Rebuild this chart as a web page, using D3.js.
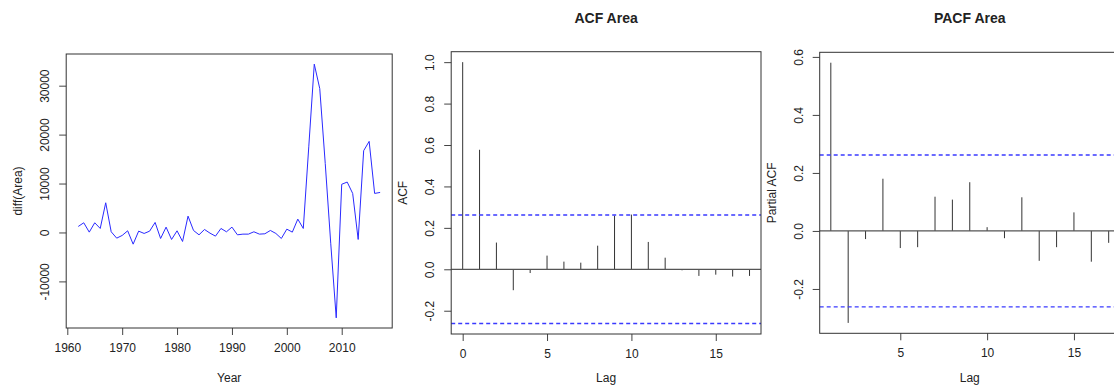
<html>
<head>
<meta charset="utf-8">
<script src="https://d3js.org/d3.v7.min.js"></script>
<style>
body { margin: 0; background: white; }
text { font-family: "Liberation Sans", Arial, sans-serif; fill: #222; }
</style>
</head>
<body>
<div id="chart"></div>
<script>
// diff(Area) series, years 1962-2017
var years = d3.range(1962, 2018);
var diffArea = [1230, 1980, 70, 1980, 820, 6070, 140, -1160, -610, 340,
  -2390, 270, -200, 270, 2050, -1230, 1090, -1430, 340, -1840,
  3340, 410, -480, 610, -140, -750, 820, 140, 1090, -480,
  -340, -340, 140, -340, -270, 410, -200, -1230, 680, 70,
  2730, 820, 17500, 34400, 29400, 14100, -2200, -17450, 9850, 10300,
  7980, -1430, 16710, 18620, 7980, 8180];
var yearTicks = [1960, 1970, 1980, 1990, 2000, 2010];
var areaTicks = [-10000, 0, 10000, 20000, 30000];

var acfLags = d3.range(0, 18);
var acfValues = [1.0, 0.577, 0.129, -0.101, -0.018, 0.066, 0.037, 0.032, 0.114, 0.259,
  0.264, 0.132, 0.056, -0.005, -0.032, -0.026, -0.035, -0.032];
var acfXTicks = [0, 5, 10, 15];
var acfYTicks = [-0.2, 0.0, 0.2, 0.4, 0.6, 0.8, 1.0];

var pacfLags = d3.range(1, 18);
var pacfValues = [0.580, -0.317, -0.028, 0.180, -0.059, -0.056, 0.118, 0.108, 0.168,
  0.013, -0.025, 0.116, -0.103, -0.056, 0.064, -0.106, -0.041];
var pacfXTicks = [5, 10, 15];
var pacfYTicks = [-0.2, 0.0, 0.2, 0.4, 0.6];

var ciLimit = 1.96 / Math.sqrt(diffArea.length);

var svg = d3.select("#chart")
  .append("svg")
    .attr("width", 1114)
    .attr("height", 385);

// R style padded range
function pad(lo, hi) {
  var d = (hi - lo) * 0.04;
  return [lo - d, hi + d];
}

// plain hyphen minus like R
var fmtInt = function(d) { return d3.format("d")(d).replace("\u2212", "-"); };
var fmtDec = function(d) { return d3.format(".1f")(d).replace("\u2212", "-"); };

function drawAxes(g, x, y, xTicks, yTicks, fmtX, fmtY) {
  var xr = x.range(), yr = y.range();
  g.append("g")
    .attr("transform", "translate(0," + yr[0] + ")")
    .call(d3.axisBottom(x).tickValues(xTicks).tickSize(7).tickPadding(8).tickFormat(fmtX))
    .call(function(a) {
      a.select(".domain").remove();
      a.selectAll("line").attr("stroke", "#444");
      a.selectAll("text").style("font-size", "12px").attr("fill", "#222");
    });
  g.append("g")
    .attr("transform", "translate(" + xr[0] + ",0)")
    .call(d3.axisLeft(y).tickValues(yTicks).tickSize(7).tickFormat(fmtY))
    .call(function(a) {
      a.select(".domain").remove();
      a.selectAll("line").attr("stroke", "#444");
      a.selectAll("text")
        .style("font-size", "12px")
        .attr("fill", "#222")
        .attr("text-anchor", "middle")
        .attr("dy", null)
        .attr("transform", "translate(-21,0) rotate(-90)")
        .attr("x", 0)
        .attr("y", 4);
    });
  g.append("rect")
    .attr("x", xr[0])
    .attr("y", yr[1])
    .attr("width", xr[1] - xr[0])
    .attr("height", yr[0] - yr[1])
    .attr("fill", "none")
    .attr("stroke", "#333")
    .attr("stroke-width", 1);
}

function labels(g, x, y, xLab, xLabY, yLab, title) {
  var xr = x.range(), yr = y.range();
  g.append("text")
    .attr("x", (xr[0] + xr[1]) / 2)
    .attr("y", xLabY)
    .attr("text-anchor", "middle")
    .style("font-size", "12px")
    .text(xLab);
  g.append("text")
    .attr("transform", "translate(" + (xr[0] - 44) + "," + ((yr[0] + yr[1]) / 2) + ") rotate(-90)")
    .attr("text-anchor", "middle")
    .style("font-size", "12px")
    .text(yLab);
  if (title) {
    g.append("text")
      .attr("x", (xr[0] + xr[1]) / 2)
      .attr("y", 23)
      .attr("text-anchor", "middle")
      .style("font-size", "14px")
      .style("font-weight", "bold")
      .attr("fill", "#000")
      .text(title);
  }
}

// ---- panel 1: diff(Area) time series
var p1 = svg.append("g");
var x1 = d3.scaleLinear().domain(pad(1962, 2017)).range([66.2, 392.2]);
var y1 = d3.scaleLinear().domain(pad(d3.min(diffArea), d3.max(diffArea))).range([328, 54]);

p1.append("path")
  .datum(diffArea)
  .attr("fill", "none")
  .attr("stroke", "#2a2aff")
  .attr("stroke-width", 1)
  .attr("d", d3.line()
    .x(function(d, i) { return x1(years[i]); })
    .y(function(d) { return y1(d); }));

drawAxes(p1, x1, y1, yearTicks, areaTicks, fmtInt, fmtInt);
labels(p1, x1, y1, "Year", 382, "diff(Area)", null);

// ---- ACF / PACF panels
function corrPanel(lags, vals, domX, xRange, yRange, xTicks, yTicks, yLab, title) {
  var g = svg.append("g");
  var x = d3.scaleLinear().domain(pad(domX[0], domX[1])).range(xRange);
  var lo = Math.min(d3.min(vals), -ciLimit), hi = Math.max(d3.max(vals), ciLimit);
  var y = d3.scaleLinear().domain(pad(lo, hi)).range(yRange);

  g.selectAll(".spike")
    .data(vals)
    .enter()
    .append("line")
      .attr("class", "spike")
      .attr("x1", function(d, i) { return x(lags[i]); })
      .attr("x2", function(d, i) { return x(lags[i]); })
      .attr("y1", y(0))
      .attr("y2", function(d) { return y(d); })
      .attr("stroke", "#333")
      .attr("stroke-width", 1);

  g.append("line")
    .attr("x1", xRange[0]).attr("x2", xRange[1])
    .attr("y1", y(0)).attr("y2", y(0))
    .attr("stroke", "#555")
    .attr("stroke-width", 1.3);

  [ciLimit, -ciLimit].forEach(function(c) {
    g.append("line")
      .attr("x1", xRange[0]).attr("x2", xRange[1])
      .attr("y1", y(c)).attr("y2", y(c))
      .attr("stroke", "#3a3aff")
      .attr("stroke-width", 1.4)
      .attr("stroke-dasharray", "4,3");
  });

  drawAxes(g, x, y, xTicks, yTicks, fmtInt, fmtDec);
  labels(g, x, y, "Lag", 382, yLab, title);
}

corrPanel(acfLags, acfValues, [0, 17], [451.2, 761.0], [334, 51.7],
  acfXTicks, acfYTicks, "ACF", "ACF Area");
corrPanel(pacfLags, pacfValues, [1, 17], [819.7, 1119.8], [333.3, 52.3],
  pacfXTicks, pacfYTicks, "Partial ACF", "PACF Area");
</script>
</body>
</html>
